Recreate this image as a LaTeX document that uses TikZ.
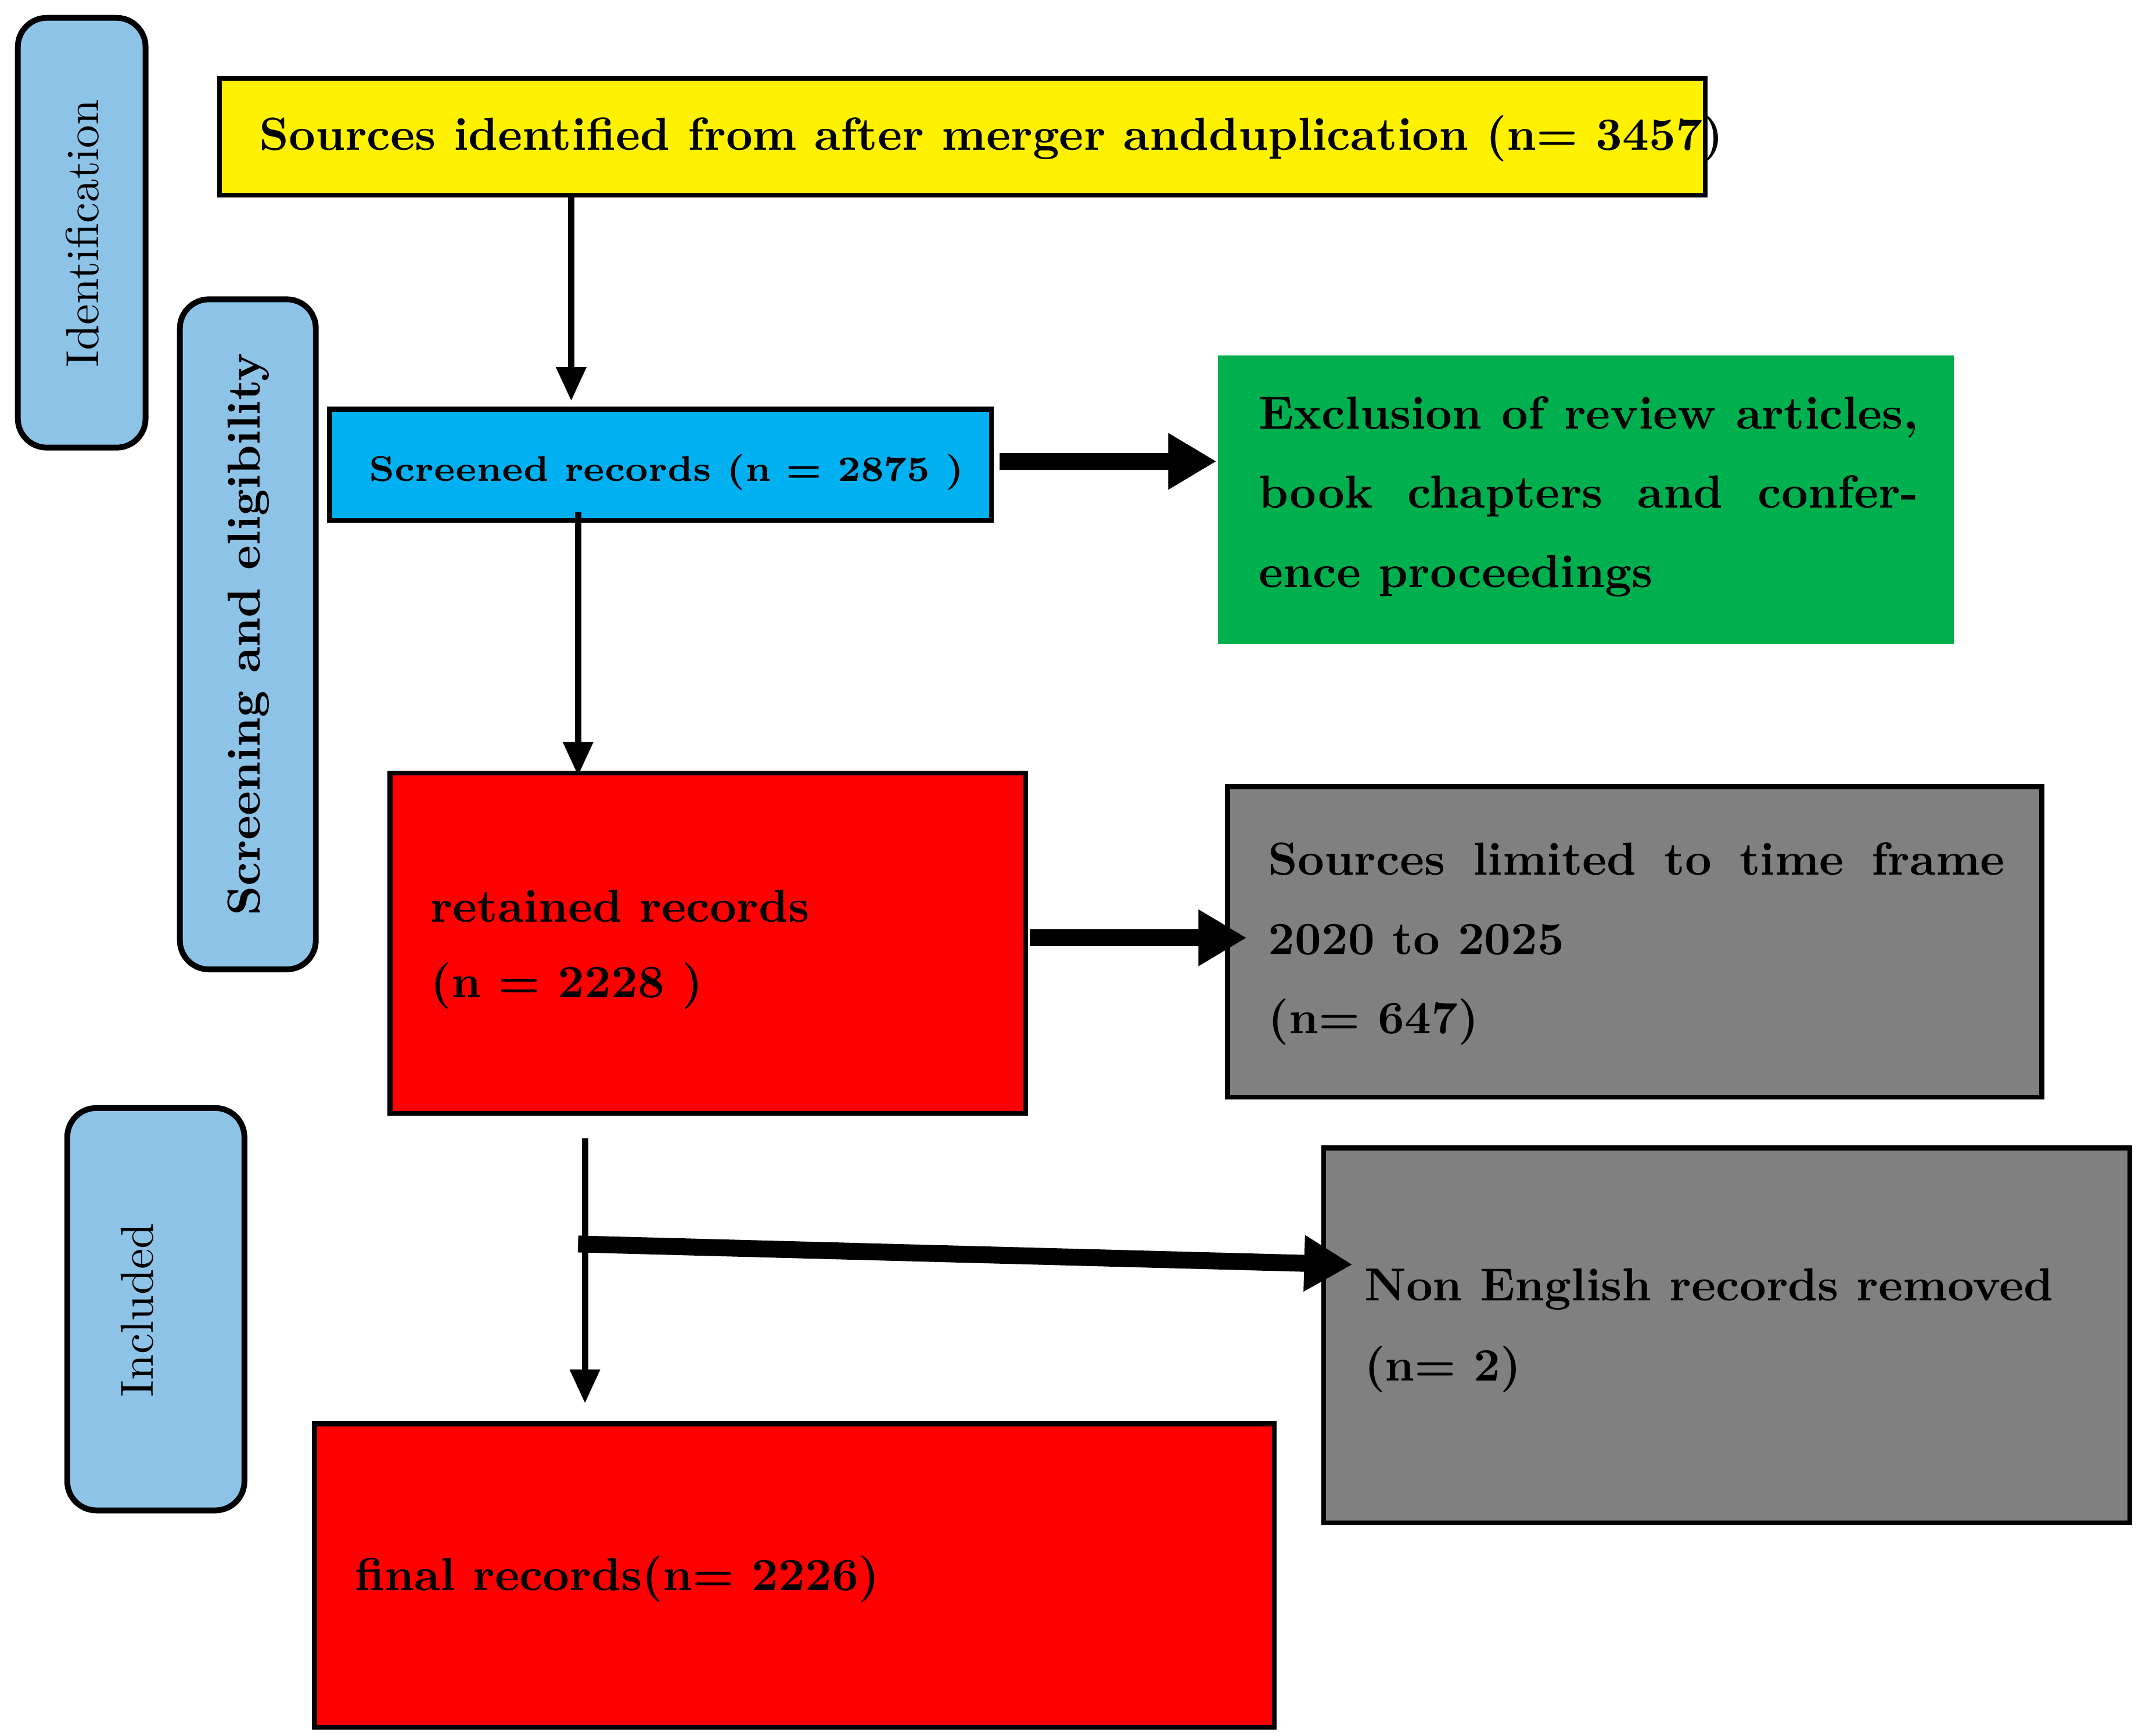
\documentclass[tikz,border=0pt]{standalone}
\usetikzlibrary{arrows.meta}
\begin{document}
\begin{tikzpicture}[x=0.01cm,y=-0.01cm,
  stage/.style={draw=black,line width=1.2pt,rounded corners=6pt,fill=stageblue},
  box/.style={draw=black,line width=1pt},
  txt/.style={anchor=west,font=\fontsize{9.6}{11}\selectfont\bfseries,inner sep=0},
  thin/.style={line width=1.3pt,-{Triangle[length=7pt,width=6pt]}},
  thick/.style={line width=3.5pt,-{Triangle[length=10pt,width=11pt]}}]
\definecolor{stageblue}{HTML}{8EC3E8}
\definecolor{pgreen}{HTML}{00B04F}
\definecolor{pcyan}{HTML}{00B0F0}
\useasboundingbox (0,0) rectangle (1560,1264);
% stage boxes
\draw[stage] (13,13) rectangle (106,326);
\node[rotate=90,font=\fontsize{9.6}{11}\selectfont] (lid) at (60,170) {Identification};
\draw[stage] (131,218) rectangle (230,706);
\node[rotate=90,font=\fontsize{9.6}{11}\selectfont\bfseries] (lsc) at (181,462) {Screening and eligibility};
\draw[stage] (49,807) rectangle (178,1100);
\node[rotate=90,font=\fontsize{9.6}{11}\selectfont] (lin) at (100,954) {Included};
% boxes
\draw[box,fill=yellow] (160,57) rectangle (1242,142);
\node[txt] (y) at (188,101) {Sources identified from after merger andduplication (n= 3457)};
\draw[box,fill=pcyan] (240,298) rectangle (722,379);
\node[txt,font=\fontsize{7.4}{9}\selectfont\bfseries] (s) at (268,344) {Screened records (n = 2875 )};
\fill[pgreen] (887,259) rectangle (1423,469);
\node[anchor=north west,inner sep=0,text width=4.8cm,align=justify,font=\fontsize{9.6}{16.4}\selectfont\bfseries] (g) at (916,288) {Exclusion of review articles, book chapters and conference proceedings};
\draw[box,fill=red] (284,563) rectangle (747,811);
\node[txt] (r1) at (313,660) {retained records};
\node[txt] (r1b) at (313,718) {(n = 2228 )};
\draw[box,fill=gray] (894,573) rectangle (1487,799);
\node[anchor=north west,inner sep=0,text width=5.36cm,align=justify,font=\fontsize{9.6}{16.4}\selectfont\bfseries] (g1) at (923,613) {Sources limited to time frame 2020 to 2025\\(n= 647)};
\draw[box,fill=gray] (964,836) rectangle (1551,1109);
\node[txt] (g2) at (993,939) {Non English records removed};
\node[txt] (g2b) at (993,997) {(n= 2)};
\draw[box,fill=red] (229,1037) rectangle (928,1258);
\node[txt] (r2) at (258,1150) {final records(n= 2226)};
% connectors
\coordinate (a1) at (416,142); \coordinate (a2) at (416,292);
\coordinate (b1) at (421,373); \coordinate (b2) at (421,565);
\coordinate (c1) at (426,829); \coordinate (c2) at (426,1022);
\coordinate (d1) at (728,336); \coordinate (d2) at (886,336);
\coordinate (e1) at (750,683); \coordinate (e2) at (908,683);
\coordinate (f1) at (421,906); \coordinate (f2) at (985,921);
\draw[thin] (a1) -- (a2);
\draw[thin] (b1) -- (b2);
\draw[thin] (c1) -- (c2);
\draw[thick] (d1) -- (d2);
\draw[thick] (e1) -- (e2);
\draw[thick] (f1) -- (f2);
\end{tikzpicture}
\end{document}
